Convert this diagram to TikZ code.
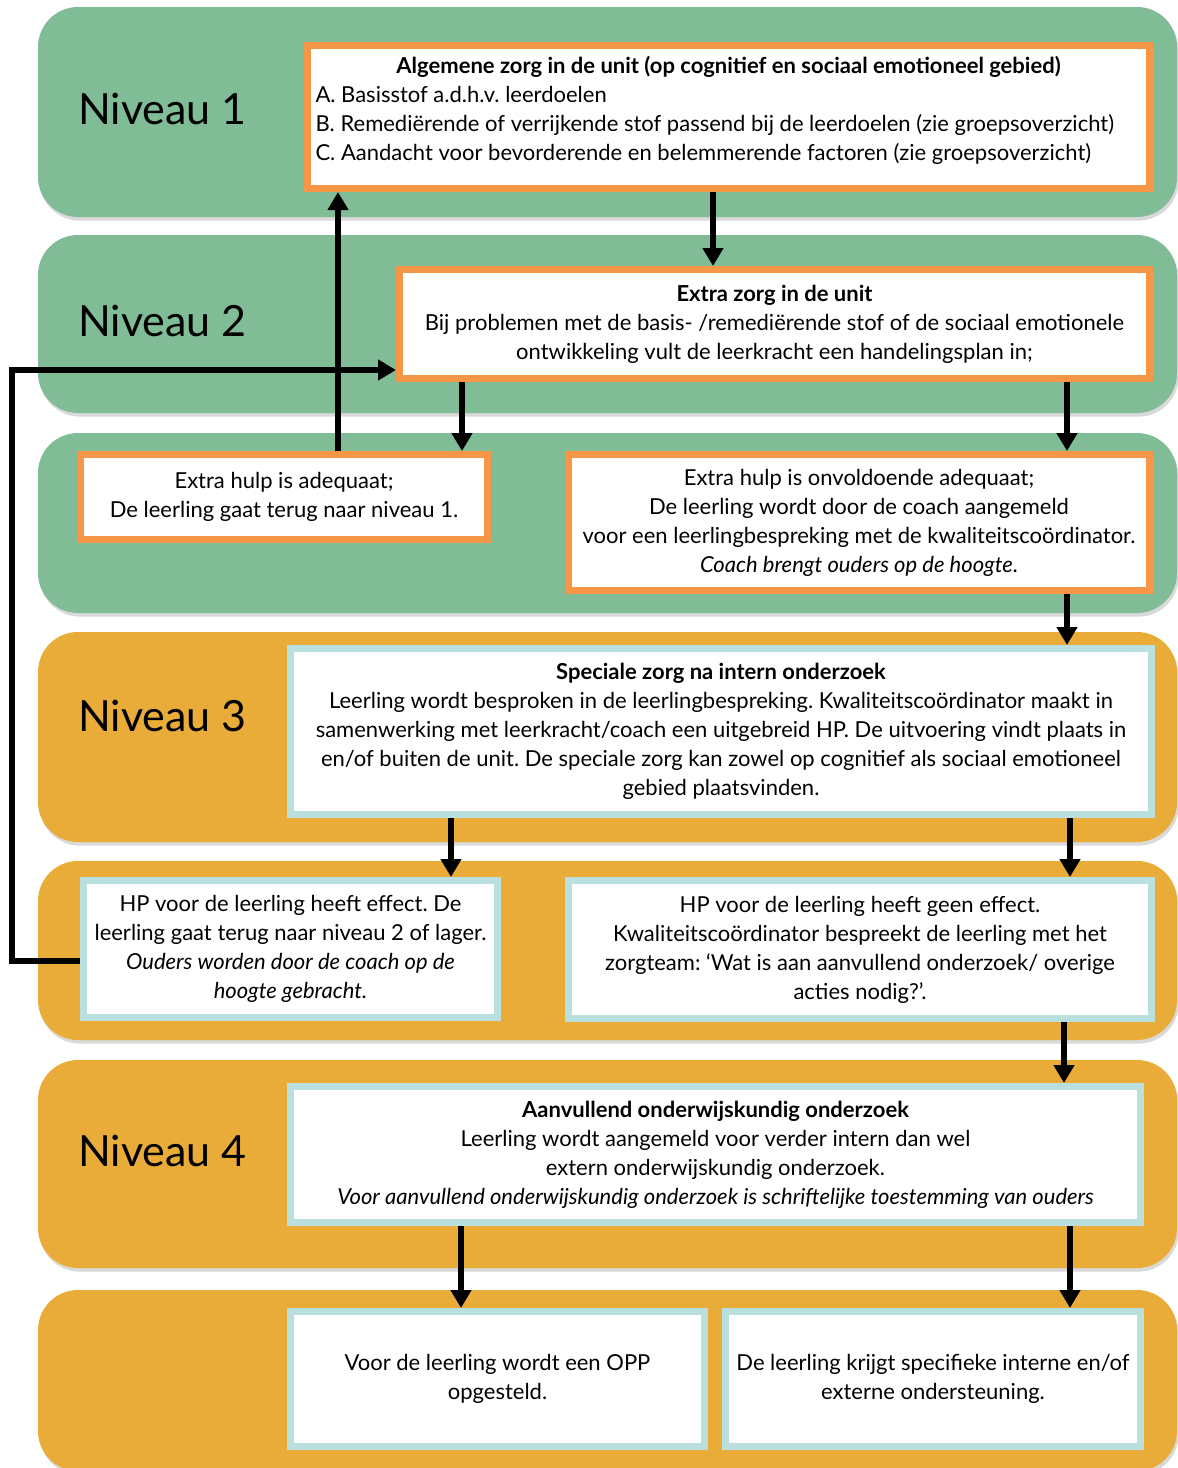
\documentclass[tikz,border=0pt]{standalone}
\usepackage{fontspec}
\setmainfont{Lato}
\usetikzlibrary{arrows.meta,shadows,calc}
\definecolor{bandgreen}{HTML}{80BC96}
\definecolor{bandorange}{HTML}{EAAC38}
\definecolor{borderorange}{HTML}{F79646}
\definecolor{borderteal}{HTML}{B9DFDE}
\newcommand{\bodyfont}{\fontsize{11}{14.5}\selectfont\frenchspacing}
\begin{document}
\begin{tikzpicture}[x=0.5pt,y=-0.5pt,
  band/.style={rounded corners=20pt, drop shadow={shadow xshift=0.8pt,shadow yshift=-1.8pt,opacity=0.3}},
  obox/.style={draw=borderorange, line width=3.5pt, fill=white, inner sep=0pt, align=center, font=\bodyfont},
  tbox/.style={obox, draw=borderteal},
  niv/.style={anchor=west, font=\fontsize{21.5}{26}\selectfont, inner sep=0pt},
  arr/.style={line width=3pt, -{Triangle[width=10pt,length=9pt]}}
]
\useasboundingbox (0,0) rectangle (1178,1468);
\clip (0,0) rectangle (1178,1468);
% bands
\fill[bandgreen, band] (38,7) rectangle (1177,217);
\fill[bandgreen, band] (38,235) rectangle (1177,413);
\fill[bandgreen, band] (38,433) rectangle (1177,613);
\fill[bandorange, band] (38,632) rectangle (1177,842);
\fill[bandorange, band] (38,861) rectangle (1177,1040);
\fill[bandorange, band] (38,1060) rectangle (1177,1268);
\fill[bandorange, band] (38,1290) rectangle (1177,1471);
% level labels
\node[niv] (n1) at (78,109) {Niveau 1};
\node[niv] (n2) at (78,321) {Niveau 2};
\node[niv] (n3) at (78,716) {Niveau 3};
\node[niv] (n4) at (78,1151) {Niveau 4};
% boxes
\node[obox, minimum width=421pt, minimum height=71.5pt] (b1) at (728.5,117)
 {\parbox{413pt}{\bodyfont\centering\textbf{Algemene zorg in de unit (op cognitief en sociaal emotioneel gebied)}\par
  \raggedright A. Basisstof a.d.h.v. leerdoelen\\
  B. Remediërende of verrijkende stof passend bij de leerdoelen (zie groepsoverzicht)\\
  C. Aandacht voor bevorderende en belemmerende factoren (zie groepsoverzicht)\par\vspace{6.5pt}}};
\node[obox, minimum width=375pt, minimum height=54.5pt] (b2) at (774.5,324)
 {\textbf{Extra zorg in de unit}\\Bij problemen met de basis- /remediërende stof of de sociaal emotionele\\ontwikkeling vult de leerkracht een handelingsplan in;};
\node[obox, minimum width=203.5pt, minimum height=42.5pt] (b3a) at (284,497)
 {Extra hulp is adequaat;\\De leerling gaat terug naar niveau 1.};
\node[obox, minimum width=290.5pt, minimum height=68pt] (b3b) at (859,522.5)
 {Extra hulp is onvoldoende adequaat;\\De leerling wordt door de coach aangemeld\\voor een leerlingbespreking met de kwaliteitscoördinator.\\\textit{Coach brengt ouders op de hoogte}.};
\node[tbox, minimum width=430.5pt, minimum height=83pt] (b4) at (721,731.5)
 {\textbf{Speciale zorg na intern onderzoek}\\Leerling wordt besproken in de leerlingbespreking. Kwaliteitscoördinator maakt in\\samenwerking met leerkracht/coach een uitgebreid HP. De uitvoering vindt plaats in\\en/of buiten de unit. De speciale zorg kan zowel op cognitief als sociaal emotioneel\\gebied plaatsvinden.};
\node[tbox, minimum width=207pt, minimum height=68.5pt] (b5a) at (290.5,949)
 {HP voor de leerling heeft effect. De\\leerling gaat terug naar niveau 2 of lager.\\\textit{Ouders worden door de coach op de}\\\textit{hoogte gebracht.}};
\node[tbox, minimum width=291.5pt, minimum height=69pt] (b5b) at (860,949.5)
 {HP voor de leerling heeft geen effect.\\Kwaliteitscoördinator bespreekt de leerling met het\\zorgteam: ‘Wat is aan aanvullend onderzoek/ overige\\acties nodig?’.};
\node[tbox, minimum width=425pt, minimum height=68pt] (b6) at (715.5,1154.5)
 {\textbf{Aanvullend onderwijskundig onderzoek}\\Leerling wordt aangemeld voor verder intern dan wel\\extern onderwijskundig onderzoek.\\\textit{Voor aanvullend onderwijskundig onderzoek is schriftelijke toestemming van ouders}};
\node[tbox, minimum width=207pt, minimum height=67.5pt] (b7a) at (497.5,1379)
 {Voor de leerling wordt een OPP\\opgesteld.};
\node[tbox, minimum width=207.5pt, minimum height=67.5pt] (b7b) at (933,1379)
 {De leerling krijgt specifieke interne en/of\\externe ondersteuning.};
% connectors
\draw[arr] (713,0 |- b1.south) -- (713,0 |- b2.north);
\draw[arr] (462,0 |- b2.south) -- (462,0 |- b3a.north);
\draw[arr] (1067,0 |- b2.south) -- (1067,0 |- b3b.north);
\draw[arr] (338,0 |- b3a.north) -- (338,0 |- b1.south);
\draw[arr] (1067,0 |- b3b.south) -- (1067,0 |- b4.north);
\draw[arr] (451,0 |- b4.south) -- (451,0 |- b5a.north);
\draw[arr] (1070,0 |- b4.south) -- (1070,0 |- b5b.north);
\draw[arr] (1064,0 |- b5b.south) -- (1064,0 |- b6.north);
\draw[arr] (461,0 |- b6.south) -- (461,0 |- b7a.north);
\draw[arr] (1070,0 |- b6.south) -- (1070,0 |- b7b.north);
\coordinate (loopc) at (12,370);
\draw[arr] ([yshift=-6pt]b5a.west) -| (loopc) -- (b2.west |- loopc);
\end{tikzpicture}
\end{document}
